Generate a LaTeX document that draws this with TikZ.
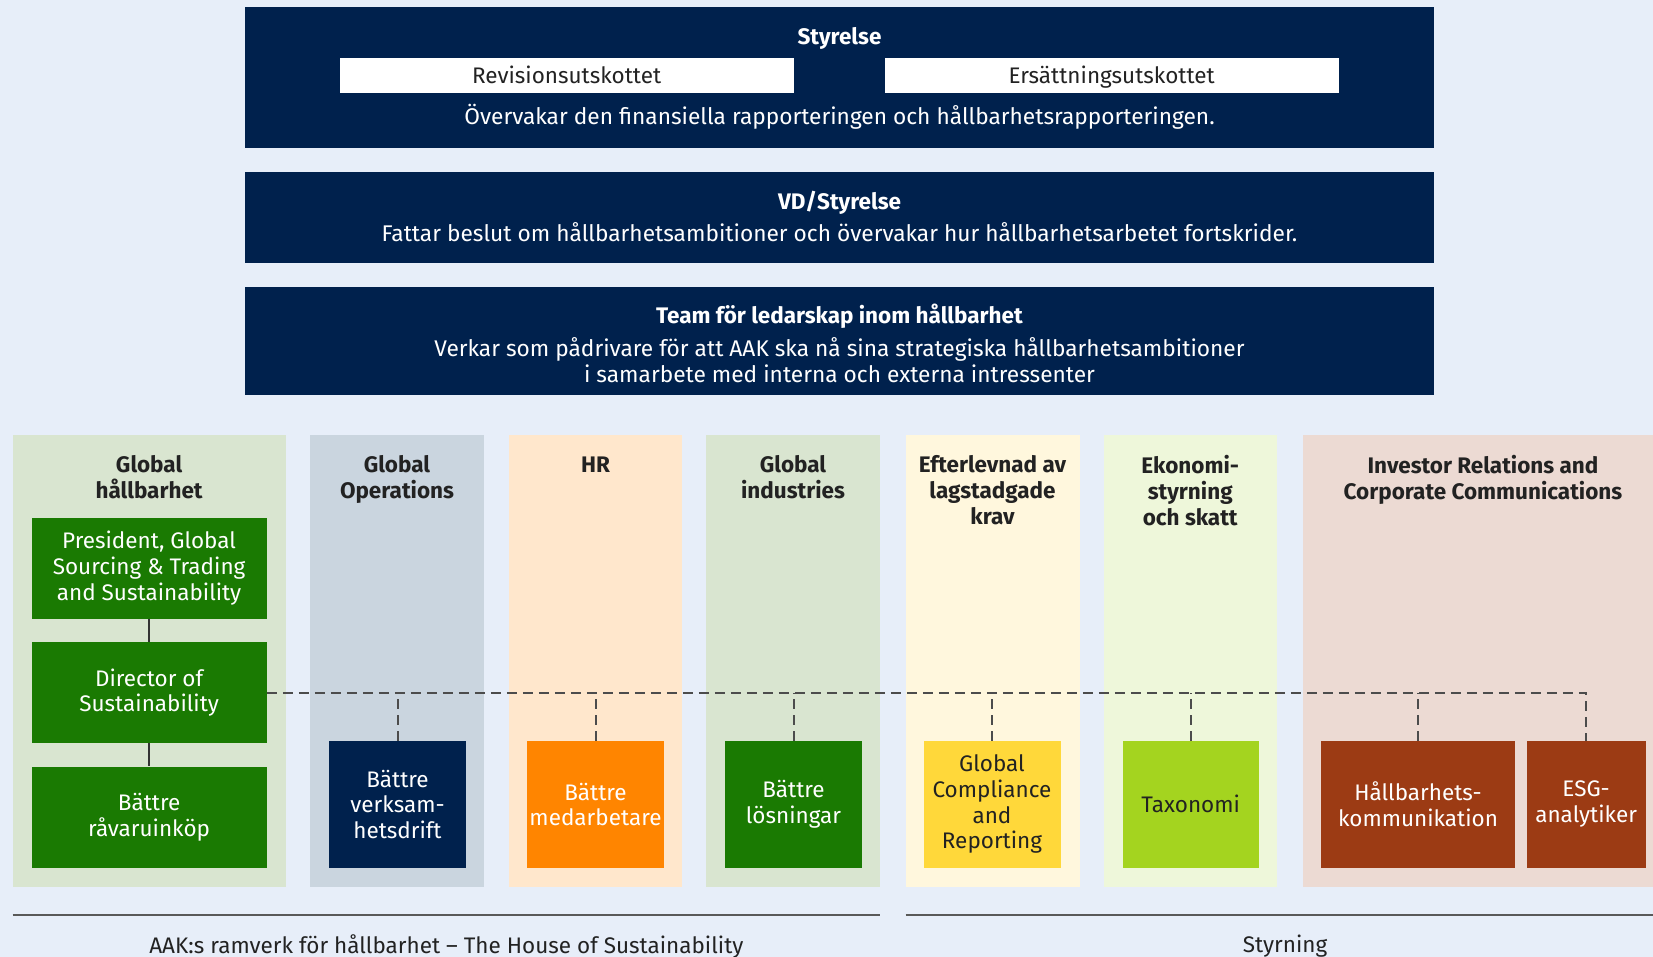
\documentclass[tikz,border=0pt]{standalone}
\usepackage{fontspec}
\setmainfont{Fira Sans}
\definecolor{pagebg}{HTML}{E7EEF9}
\definecolor{navy}{HTML}{00214D}
\definecolor{leafgreen}{HTML}{1A7A02}
\definecolor{hrorange}{HTML}{FF8500}
\definecolor{compyellow}{HTML}{FFD83A}
\definecolor{taxlime}{HTML}{A4D41F}
\definecolor{rust}{HTML}{9C3B14}
\definecolor{colsage}{HTML}{D9E5D0}
\definecolor{colgrey}{HTML}{CAD5DF}
\definecolor{colpeach}{HTML}{FFE7CC}
\definecolor{colcream}{HTML}{FFF7DD}
\definecolor{collime}{HTML}{EEF7DA}
\definecolor{colrose}{HTML}{ECDAD3}
\definecolor{inktext}{HTML}{222222}
\begin{document}
\begin{tikzpicture}[x=1pt,y=-1pt,
    boardbox/.style={fill=navy, minimum width=1189pt, inner sep=0pt},
    boardlines/.style={text=white, font=\fontsize{22.7}{26.4}\selectfont, align=center, inner sep=0pt},
    boardtext/.style={boardlines, text height=16pt, text depth=5pt},
    boardtitle/.style={text=white, font=\bfseries\fontsize{22.5}{26.4}\selectfont,
        text height=16pt, text depth=5pt, inner sep=0pt},
    committee/.style={fill=white, minimum width=454pt, minimum height=35pt, inner sep=0pt,
        text=inktext, font=\fontsize{22.5}{24}\selectfont, text height=20pt, text depth=4.5pt},
    coltitle/.style={anchor=north, align=center, text=inktext, font=\bfseries\fontsize{22.5}{25.8}\selectfont},
    unitbox/.style={minimum height=101pt, inner sep=0pt, align=center, text=white,
        font=\fontsize{22.5}{25.6}\selectfont},
    dashline/.style={draw=black!70, line width=2pt, dash pattern=on 10pt off 6pt},
    solidline/.style={draw=black!80, line width=1.6pt},
    footline/.style={draw=black!65, line width=1.6pt}]
    \fill[pagebg] (0,0) rectangle (1653,957);
    \useasboundingbox (0,0) rectangle (1653,957);
    % top boards
    \node[boardbox, minimum height=141pt] (styrelse) at (839.5,78) {};
    \node[boardtitle] at (839.5,39.5) {Styrelse};
    \node[committee] (revision) at (566.6,75.4) {Revisionsutskottet};
    \node[committee] (ersattning) at (1111.6,75.4) {Ersättningsutskottet};
    \node[boardtext] at (839.5,119) {Övervakar den finansiella rapporteringen och hållbarhetsrapporteringen.};
    \node[boardbox, minimum height=91pt] (vd) at (839.5,217.2) {};
    \node[boardtitle] at (839.5,204) {VD/Styrelse};
    \node[boardtext] at (839.5,236.5) {Fattar beslut om hållbarhetsambitioner och övervakar hur hållbarhetsarbetet fortskrider.};
    \node[boardbox, minimum height=108.6pt] (team) at (839.5,341) {};
    \node[boardtitle] at (839.5,318) {Team för ledarskap inom hållbarhet};
    \node[boardlines] at (839.5,360) {Verkar som pådrivare för att AAK ska nå sina strategiska hållbarhetsambitioner\\i samarbete med interna och externa intressenter};
    % columns
    \fill[colsage] (12.6,435.4) rectangle (285.7,886.6);
    \fill[colgrey] (310,435.4) rectangle (484,886.6);
    \fill[colpeach] (509,435.4) rectangle (682,886.6);
    \fill[colsage] (706,435.4) rectangle (880,886.6);
    \fill[colcream] (905.6,435.4) rectangle (1079.5,886.6);
    \fill[collime] (1103.7,435.4) rectangle (1276.7,886.6);
    \fill[colrose] (1303,435.4) rectangle (1653,886.6);
    \node[coltitle] at (149.1,452) {Global\\hållbarhet};
    \node[coltitle] at (397,452) {Global\\Operations};
    \node[coltitle] at (595.5,453) {HR};
    \node[coltitle] at (793,452) {Global\\industries};
    \node[coltitle] at (992.5,452) {Efterlevnad av\\lagstadgade\\krav};
    \node[coltitle] at (1190.2,452) {Ekonomi-\\styrning\\och skatt};
    \node[coltitle] at (1483,452) {Investor Relations and\\Corporate Communications};
    % units
    \node[unitbox, fill=leafgreen, minimum width=235pt] (pres) at (149.1,568.2) {President, Global\\Sourcing \& Trading\\and Sustainability};
    \node[unitbox, fill=leafgreen, minimum width=235pt] (director) at (149.1,692.6) {Director of\\Sustainability};
    \node[unitbox, fill=leafgreen, minimum width=235pt] (ravaru) at (149.1,817) {Bättre\\råvaruinköp};
    \node[unitbox, fill=navy, minimum width=137pt, minimum height=126.6pt] (drift) at (397.5,804.3) {Bättre\\verksam-\\hetsdrift};
    \node[unitbox, fill=hrorange, minimum width=137pt, minimum height=126.6pt] (medarb) at (595.5,804.3) {Bättre\\medarbetare};
    \node[unitbox, fill=leafgreen, minimum width=137pt, minimum height=126.6pt] (losning) at (793.5,804.3) {Bättre\\lösningar};
    \node[unitbox, fill=compyellow, text=inktext, minimum width=137pt, minimum height=126.6pt] (compliance) at (992,804.3) {Global\\Compliance\\and\\Reporting};
    \node[unitbox, fill=taxlime, text=inktext, minimum width=136pt, minimum height=126.6pt] (taxonomi) at (1190.7,804.3) {Taxonomi};
    \node[unitbox, fill=rust, minimum width=194pt, minimum height=126.6pt] (komm) at (1418,804.3) {Hållbarhets-\\kommunikation};
    \node[unitbox, fill=rust, minimum width=119pt, minimum height=126.6pt] (esg) at (1586.1,804.3) {ESG-\\analytiker};
    % links
    \draw[solidline] (pres.south) -- (director.north);
    \draw[solidline] (director.south) -- (ravaru.north);
    \draw[dashline] (director.east) -| (esg.north);
    \foreach \unit in {drift,medarb,losning,compliance,taxonomi,komm}
        \draw[dashline] (\unit.north) -- (\unit.north |- director.east);
    % footer
    \draw[footline] (12.6,915) -- (880,915);
    \draw[footline] (905.6,915) -- (1653,915);
    \node[text=inktext, font=\fontsize{22.5}{24}\selectfont] (housefoot) at (446.3,946.5) {AAK:s ramverk för hållbarhet – The House of Sustainability};
    \node[text=inktext, font=\fontsize{22.5}{24}\selectfont] (styrfoot) at (1285,946.5) {Styrning};
\end{tikzpicture}
\end{document}
